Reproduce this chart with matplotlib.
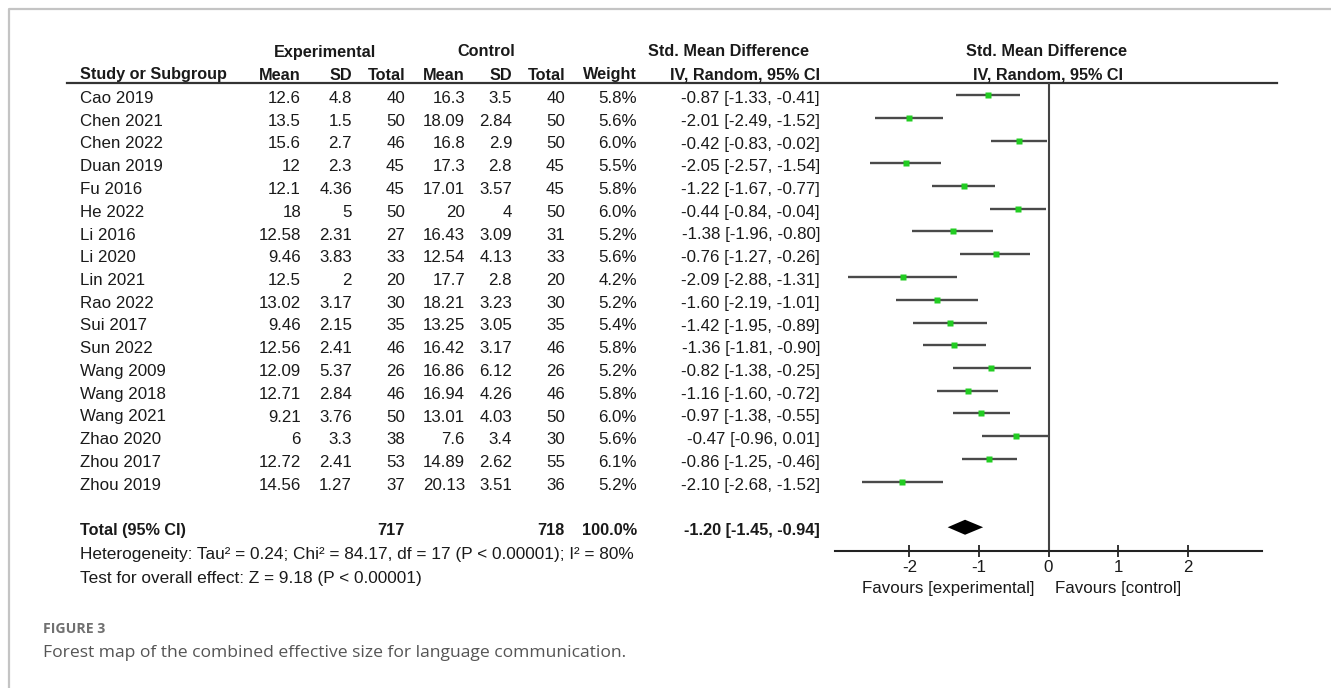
import matplotlib.pyplot as plt
import numpy as np

# study rows
studies = ["Cao 2019", "Chen 2021", "Chen 2022", "Duan 2019", "Fu 2016", "He 2022",
           "Li 2016", "Li 2020", "Lin 2021", "Rao 2022", "Sui 2017", "Sun 2022",
           "Wang 2009", "Wang 2018", "Wang 2021", "Zhao 2020", "Zhou 2017", "Zhou 2019"]
exp_mean = [12.6, 13.5, 15.6, 12, 12.1, 18, 12.58, 9.46, 12.5, 13.02, 9.46, 12.56,
            12.09, 12.71, 9.21, 6, 12.72, 14.56]
exp_sd = [4.8, 1.5, 2.7, 2.3, 4.36, 5, 2.31, 3.83, 2, 3.17, 2.15, 2.41,
          5.37, 2.84, 3.76, 3.3, 2.41, 1.27]
exp_n = [40, 50, 46, 45, 45, 50, 27, 33, 20, 30, 35, 46, 26, 46, 50, 38, 53, 37]
ctl_mean = [16.3, 18.09, 16.8, 17.3, 17.01, 20, 16.43, 12.54, 17.7, 18.21, 13.25, 16.42,
            16.86, 16.94, 13.01, 7.6, 14.89, 20.13]
ctl_sd = [3.5, 2.84, 2.9, 2.8, 3.57, 4, 3.09, 4.13, 2.8, 3.23, 3.05, 3.17,
          6.12, 4.26, 4.03, 3.4, 2.62, 3.51]
ctl_n = [40, 50, 50, 45, 45, 50, 31, 33, 20, 30, 35, 46, 26, 46, 50, 30, 55, 36]
weight = [5.8, 5.6, 6.0, 5.5, 5.8, 6.0, 5.2, 5.6, 4.2, 5.2, 5.4, 5.8, 5.2, 5.8, 6.0, 5.6, 6.1, 5.2]
smd = [-0.87, -2.01, -0.42, -2.05, -1.22, -0.44, -1.38, -0.76, -2.09, -1.60, -1.42, -1.36,
       -0.82, -1.16, -0.97, -0.47, -0.86, -2.10]
ci_lo = [-1.33, -2.49, -0.83, -2.57, -1.67, -0.84, -1.96, -1.27, -2.88, -2.19, -1.95, -1.81,
         -1.38, -1.60, -1.38, -0.96, -1.25, -2.68]
ci_hi = [-0.41, -1.52, -0.02, -1.54, -0.77, -0.04, -0.80, -0.26, -1.31, -1.01, -0.89, -0.90,
         -0.25, -0.72, -0.55, 0.01, -0.46, -1.52]

total_exp, total_ctl, total_w = 717, 718, 100.0
pooled, pooled_lo, pooled_hi = -1.20, -1.45, -0.94
het_text = "Heterogeneity: Tau\u00b2 = 0.24; Chi\u00b2 = 84.17, df = 17 (P < 0.00001); I\u00b2 = 80%"
test_text = "Test for overall effect: Z = 9.18 (P < 0.00001)"
x_ticks = [-2, -1, 0, 1, 2]

plt.rcParams['font.family'] = ['Liberation Sans', 'DejaVu Sans']
txt = '#1a1a1a'
fs = 12.2      # regular table text
fb = 11.7      # bold headers

W, H = 1331, 688
fig = plt.figure(figsize=(W / 100, H / 100), dpi=100)
bg = fig.add_axes([0, 0, 1, 1])
bg.set_xlim(0, W)
bg.set_ylim(H, 0)
bg.axis('off')

# outer frame (top + left edge)
bg.plot([9, 9, W], [H, 9, 9], color='#c4c4c4', lw=1.6, solid_capstyle='butt')

# column right edges
c_mean, c_sd, c_n = 301, 352, 405
k_mean, k_sd, k_n = 465, 512, 565
c_w, c_ci = 637, 820

# headers
bg.text(325, 52, "Experimental", ha='center', va='center', fontsize=fb, fontweight='bold', color=txt)
bg.text(486, 52, "Control", ha='center', va='center', fontsize=fb, fontweight='bold', color=txt)
bg.text(728, 52, "Std. Mean Difference", ha='center', va='center', fontsize=fb, fontweight='bold', color=txt)
bg.text(1047, 52, "Std. Mean Difference", ha='center', va='center', fontsize=fb, fontweight='bold', color=txt)
bg.text(80, 75, "Study or Subgroup", ha='left', va='center', fontsize=fb, fontweight='bold', color=txt)
for x, lab in [(c_mean, "Mean"), (c_sd, "SD"), (c_n, "Total"), (k_mean, "Mean"),
               (k_sd, "SD"), (k_n, "Total"), (c_w, "Weight"), (c_ci, "IV, Random, 95% CI")]:
    bg.text(x, 75, lab, ha='right', va='center', fontsize=fb, fontweight='bold', color=txt)
bg.text(1048, 75, "IV, Random, 95% CI", ha='center', va='center', fontsize=fb, fontweight='bold', color=txt)
bg.plot([67, 1277], [83, 83], color='#333333', lw=1.6)

# study rows
y0, dy = 95, 22.75
for i, name in enumerate(studies):
    y = y0 + dy * i + 3.5
    bg.text(80, y, name, ha='left', va='center', fontsize=fs, color=txt)
    vals = [(c_mean, f"{exp_mean[i]:g}"), (c_sd, f"{exp_sd[i]:g}"), (c_n, f"{exp_n[i]}"),
            (k_mean, f"{ctl_mean[i]:g}"), (k_sd, f"{ctl_sd[i]:g}"), (k_n, f"{ctl_n[i]}"),
            (c_w, f"{weight[i]:.1f}%"),
            (c_ci, f"{smd[i]:.2f} [{ci_lo[i]:.2f}, {ci_hi[i]:.2f}]")]
    for x, s in vals:
        bg.text(x, y, s, ha='right', va='center', fontsize=fs, color=txt)

# total row
yt = y0 + dy * 19 + 3.5
bg.text(80, yt, "Total (95% CI)", ha='left', va='center', fontsize=fb, fontweight='bold', color=txt)
bg.text(c_n, yt, f"{total_exp}", ha='right', va='center', fontsize=fb, fontweight='bold', color=txt)
bg.text(k_n, yt, f"{total_ctl}", ha='right', va='center', fontsize=fb, fontweight='bold', color=txt)
bg.text(c_w, yt, f"{total_w:.1f}%", ha='right', va='center', fontsize=fb, fontweight='bold', color=txt)
bg.text(c_ci, yt, f"{pooled:.2f} [{pooled_lo:.2f}, {pooled_hi:.2f}]", ha='right', va='center',
        fontsize=fb, fontweight='bold', color=txt)
bg.text(80, 555, het_text, ha='left', va='center', fontsize=12.4, color=txt)
bg.text(80, 578, test_text, ha='left', va='center', fontsize=12.4, color=txt)

# favours labels
bg.text(1035, 589, "Favours [experimental]", ha='right', va='center', fontsize=fs, color=txt)
bg.text(1055, 589, "Favours [control]", ha='left', va='center', fontsize=fs, color=txt)

# caption
bg.text(43, 629, "FIGURE 3", ha='left', va='center', fontsize=10.2, fontweight='bold',
        color='#707070', family=['Open Sans', 'DejaVu Sans'])
bg.text(43, 653, "Forest map of the combined effective size for language communication.",
        ha='left', va='center', fontsize=12.6, color='#555555', family=['Open Sans', 'DejaVu Sans'])

# forest panel
top_px, bot_px, left_px, right_px = 83, 551, 835, 1262
ax = fig.add_axes([left_px / W, 1 - bot_px / H, (right_px - left_px) / W, (bot_px - top_px) / H])
ax.patch.set_alpha(0)
rows = np.arange(len(studies))
ax.set_ylim((bot_px - y0) / dy, (top_px - y0) / dy)
ax.set_xlim(-3.07, 3.07)
ax.axvline(0, color='#444444', lw=1.5)
ax.hlines(rows, ci_lo, ci_hi, color='#4a4a4a', lw=1.7)
ax.plot(smd, rows, 's', color='#22cc22', ms=3.8, mec='none')
r_tot = 19
ax.fill([pooled_lo, pooled, pooled_hi, pooled], [r_tot, r_tot - 0.33, r_tot, r_tot + 0.33],
        color='black', lw=0)
for s in ['top', 'left', 'right']:
    ax.spines[s].set_visible(False)
ax.spines['bottom'].set_color('#222222')
ax.spines['bottom'].set_linewidth(1.5)
ax.set_yticks([])
ax.set_xticks(x_ticks)
ax.set_xticklabels([str(t) for t in x_ticks])
ax.tick_params(axis='x', direction='inout', length=9, width=1.3, color='#222222',
               labelsize=fs, labelcolor=txt, pad=2)

fig.savefig('out.png', dpi=100)
